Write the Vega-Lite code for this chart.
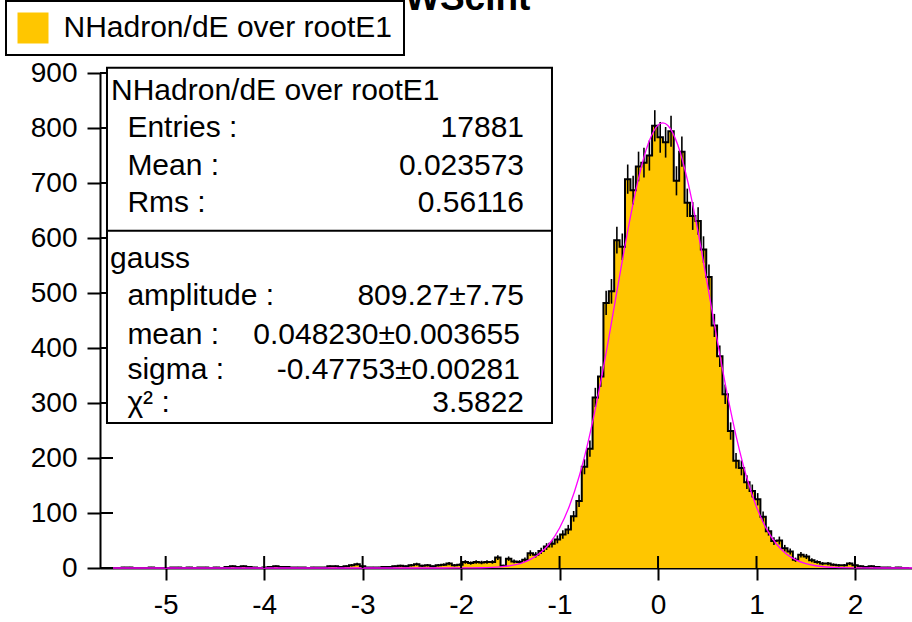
{
  "$schema": "https://vega.github.io/schema/vega-lite/v6.json",
  "width": 812,
  "height": 495,
  "autosize": {"type": "none"},
  "padding": {"left": 100, "top": 73, "right": 0, "bottom": 54},
  "background": "white",
  "config": {"view": {"stroke": null}, "font": "Liberation Sans"},
  "data": {"values": [{}]},
  "datasets": {
    "hist": [
      {"x":-5.640,"n":0,"e":0},{"x":-5.585,"n":0,"e":0},{"x":-5.530,"n":0,"e":0},{"x":-5.475,"n":0,"e":0},{"x":-5.420,"n":1,"e":1},
      {"x":-5.365,"n":1,"e":1},{"x":-5.310,"n":0,"e":0},{"x":-5.255,"n":0,"e":0},{"x":-5.200,"n":0,"e":0},{"x":-5.145,"n":1,"e":1},
      {"x":-5.090,"n":0,"e":0},{"x":-5.035,"n":0,"e":0},{"x":-4.980,"n":0,"e":0},{"x":-4.925,"n":1,"e":1},{"x":-4.870,"n":1,"e":1},
      {"x":-4.815,"n":0,"e":0},{"x":-4.760,"n":1,"e":1},{"x":-4.705,"n":0,"e":0},{"x":-4.650,"n":1,"e":1},{"x":-4.595,"n":1,"e":1},
      {"x":-4.540,"n":0,"e":0},{"x":-4.485,"n":1,"e":1},{"x":-4.430,"n":0,"e":0},{"x":-4.375,"n":2,"e":1.4},{"x":-4.320,"n":3,"e":1.7},
      {"x":-4.265,"n":2,"e":1.4},{"x":-4.210,"n":3,"e":1.7},{"x":-4.155,"n":2,"e":1.4},{"x":-4.100,"n":1,"e":1},{"x":-4.045,"n":0,"e":0},
      {"x":-3.990,"n":1,"e":1},{"x":-3.935,"n":2,"e":1.4},{"x":-3.881,"n":3,"e":1.7},{"x":-3.826,"n":2,"e":1.4},{"x":-3.771,"n":2,"e":1.4},
      {"x":-3.716,"n":1,"e":1},{"x":-3.661,"n":1,"e":1},{"x":-3.606,"n":1,"e":1},{"x":-3.551,"n":0,"e":0},{"x":-3.496,"n":1,"e":1},
      {"x":-3.441,"n":1,"e":1},{"x":-3.386,"n":1,"e":1},{"x":-3.331,"n":3,"e":1.7},{"x":-3.276,"n":3,"e":1.7},{"x":-3.221,"n":2,"e":1.4},
      {"x":-3.166,"n":3,"e":1.7},{"x":-3.111,"n":5,"e":2.2},{"x":-3.056,"n":7,"e":2.6},{"x":-3.001,"n":3,"e":1.7},{"x":-2.946,"n":1,"e":1},
      {"x":-2.891,"n":1,"e":1},{"x":-2.836,"n":1,"e":1},{"x":-2.781,"n":2,"e":1.4},{"x":-2.726,"n":2,"e":1.4},{"x":-2.671,"n":3,"e":1.7},
      {"x":-2.616,"n":4,"e":2},{"x":-2.561,"n":3,"e":1.7},{"x":-2.506,"n":5,"e":2.2},{"x":-2.451,"n":7,"e":2.6},{"x":-2.396,"n":4,"e":2},
      {"x":-2.341,"n":5,"e":2.2},{"x":-2.286,"n":3,"e":1.7},{"x":-2.231,"n":5,"e":2.2},{"x":-2.176,"n":6,"e":2.4},{"x":-2.122,"n":8,"e":2.8},
      {"x":-2.067,"n":5,"e":2.2},{"x":-2.012,"n":6,"e":2.4},{"x":-1.957,"n":11,"e":3.3},{"x":-1.902,"n":9,"e":3},{"x":-1.847,"n":11,"e":3.3},
      {"x":-1.792,"n":10,"e":3.2},{"x":-1.737,"n":11,"e":3.3},{"x":-1.682,"n":11,"e":3.3},{"x":-1.627,"n":19,"e":4.4},{"x":-1.572,"n":4,"e":2},
      {"x":-1.517,"n":17,"e":4.1},{"x":-1.462,"n":12,"e":3.5},{"x":-1.407,"n":11,"e":3.3},{"x":-1.352,"n":15,"e":3.9},{"x":-1.297,"n":27,"e":5.2},
      {"x":-1.242,"n":24,"e":4.9},{"x":-1.187,"n":31,"e":5.6},{"x":-1.132,"n":39,"e":6.2},{"x":-1.077,"n":44,"e":6.6},{"x":-1.022,"n":52,"e":7.2},
      {"x":-0.967,"n":61,"e":7.8},{"x":-0.912,"n":70,"e":8.4},{"x":-0.857,"n":94,"e":9.7},{"x":-0.802,"n":122,"e":11},{"x":-0.747,"n":184,"e":13.6},
      {"x":-0.692,"n":217,"e":14.7},{"x":-0.637,"n":310,"e":17.6},{"x":-0.582,"n":348,"e":18.7},{"x":-0.527,"n":482,"e":22},{"x":-0.473,"n":503,"e":22.4},
      {"x":-0.418,"n":596,"e":24.4},{"x":-0.363,"n":584,"e":24.2},{"x":-0.308,"n":707,"e":26.6},{"x":-0.253,"n":687,"e":26.2},{"x":-0.198,"n":730,"e":27},
      {"x":-0.143,"n":737,"e":27.1},{"x":-0.088,"n":750,"e":27.4},{"x":-0.033,"n":804,"e":28.4},{"x":0.022,"n":783,"e":28},{"x":0.077,"n":774,"e":27.8},
      {"x":0.132,"n":794,"e":28.2},{"x":0.187,"n":704,"e":26.5},{"x":0.242,"n":757,"e":27.5},{"x":0.297,"n":664,"e":25.8},{"x":0.352,"n":640,"e":25.3},
      {"x":0.407,"n":631,"e":25.1},{"x":0.462,"n":579,"e":24.1},{"x":0.517,"n":529,"e":23},{"x":0.572,"n":441,"e":21},{"x":0.627,"n":385,"e":19.6},
      {"x":0.682,"n":316,"e":17.8},{"x":0.737,"n":249,"e":15.8},{"x":0.792,"n":195,"e":14},{"x":0.847,"n":182,"e":13.5},{"x":0.902,"n":156,"e":12.5},
      {"x":0.957,"n":140,"e":11.8},{"x":1.012,"n":125,"e":11.2},{"x":1.067,"n":93,"e":9.6},{"x":1.122,"n":67,"e":8.2},{"x":1.177,"n":49,"e":7},
      {"x":1.232,"n":50,"e":7.1},{"x":1.287,"n":36,"e":6},{"x":1.342,"n":30,"e":5.5},{"x":1.396,"n":15,"e":3.9},{"x":1.451,"n":24,"e":4.9},
      {"x":1.507,"n":21,"e":4.6},{"x":1.562,"n":14,"e":3.7},{"x":1.616,"n":11,"e":3.3},{"x":1.671,"n":8,"e":2.8},{"x":1.726,"n":8,"e":2.8},
      {"x":1.781,"n":6,"e":2.4},{"x":1.836,"n":5,"e":2.2},{"x":1.891,"n":5,"e":2.2},{"x":1.946,"n":8,"e":2.8},{"x":2.001,"n":5,"e":2.2},
      {"x":2.056,"n":3,"e":1.7},{"x":2.111,"n":2,"e":1.4},{"x":2.166,"n":3,"e":1.7},{"x":2.221,"n":2,"e":1.4},{"x":2.276,"n":1,"e":1},
      {"x":2.331,"n":1,"e":1},{"x":2.386,"n":0,"e":0},{"x":2.441,"n":1,"e":1},{"x":2.496,"n":0,"e":0},{"x":2.551,"n":0,"e":0}
    ],
    "fit": [
      {"x":-5.667,"y":0},{"x":-3,"y":0},{"x":-2.5,"y":0},{"x":-2.2,"y":0.02},{"x":-2,"y":0.08},{"x":-1.8,"y":0.45},
      {"x":-1.6,"y":2.1},{"x":-1.5,"y":4.2},{"x":-1.4,"y":8.1},{"x":-1.3,"y":15.1},{"x":-1.2,"y":26.6},{"x":-1.1,"y":45},
      {"x":-1,"y":72.8},{"x":-0.9,"y":112.7},{"x":-0.8,"y":167.2},{"x":-0.7,"y":237.2},{"x":-0.6,"y":322},{"x":-0.5,"y":418.5},
      {"x":-0.4,"y":521},{"x":-0.3,"y":620.2},{"x":-0.2,"y":707},{"x":-0.1,"y":771.2},{"x":0,"y":805.2},{"x":0.048,"y":809.3},
      {"x":0.1,"y":804.5},{"x":0.2,"y":769.5},{"x":0.3,"y":704.2},{"x":0.4,"y":616.9},{"x":0.5,"y":517.3},{"x":0.6,"y":415.1},
      {"x":0.7,"y":318.8},{"x":0.8,"y":234.4},{"x":0.9,"y":164.9},{"x":1,"y":111},{"x":1.1,"y":71.6},{"x":1.2,"y":44.1},
      {"x":1.3,"y":26.1},{"x":1.4,"y":14.7},{"x":1.5,"y":8},{"x":1.6,"y":4.1},{"x":1.8,"y":0.97},{"x":2,"y":0.19},
      {"x":2.3,"y":0.01},{"x":2.579,"y":0}
    ],
    "xt": [{"t":-5},{"t":-4},{"t":-3},{"t":-2},{"t":-1},{"t":0},{"t":1},{"t":2}],
    "yt": [{"v":0},{"v":100},{"v":200},{"v":300},{"v":400},{"v":500},{"v":600},{"v":700},{"v":800},{"v":900}]
  },
  "layer": [
    {
      "data": {"name": "hist"},
      "mark": {"type": "area", "interpolate": "step"},
      "encoding": {
        "x": {"field": "x", "type": "quantitative",
          "scale": {"domain": [-5.667, 2.579], "nice": false, "zero": false},
          "axis": {"title": null, "values": [-5,-4,-3,-2,-1,0,1,2], "labelExpr": "'' + datum.value",
            "labelFontSize": 28, "labelFont": "Liberation Sans", "labelColor": "black", "labelPadding": 11,
            "tickSize": 12, "tickWidth": 2, "tickColor": "black", "domainColor": "black", "domainWidth": 2,
            "grid": false, "labelFlush": false, "labelOverlap": false}},
        "y": {"field": "n", "type": "quantitative",
          "scale": {"domain": [0, 900], "nice": false, "zero": true},
          "axis": {"title": null, "values": [0,100,200,300,400,500,600,700,800,900], "labelExpr": "'' + datum.value",
            "labelFontSize": 28, "labelFont": "Liberation Sans", "labelColor": "black", "labelPadding": 10,
            "tickSize": 13, "tickWidth": 2, "tickColor": "black", "domainColor": "black", "domainWidth": 2,
            "grid": false, "labelFlush": false, "labelOverlap": false}},
        "color": {"datum": "NHadron/dE over rootE1", "type": "nominal",
          "scale": {"range": ["#FFC600"]},
          "legend": {"title": null, "orient": "none", "legendX": -94, "legendY": -72,
            "symbolType": "square", "symbolSize": 961, "symbolStrokeWidth": 0,
            "labelFontSize": 30, "labelFont": "Liberation Sans", "labelColor": "black", "labelOffset": 15,
            "labelLimit": 0, "padding": 11.5, "strokeColor": "black", "fillColor": "white",
            "encode": {"legend": {"update": {"strokeWidth": {"value": 2}}}}}}
      }
    },
    {
      "data": {"name": "hist"},
      "mark": {"type": "line", "interpolate": "step", "color": "black", "strokeWidth": 2},
      "encoding": {
        "x": {"field": "x", "type": "quantitative"},
        "y": {"field": "n", "type": "quantitative"}
      }
    },
    {
      "data": {"name": "hist"},
      "mark": {"type": "errorbar", "color": "black", "thickness": 1.6},
      "encoding": {
        "x": {"field": "x", "type": "quantitative"},
        "y": {"field": "n", "type": "quantitative"},
        "yError": {"field": "e"}
      }
    },
    {
      "data": {"name": "fit"},
      "mark": {"type": "line", "interpolate": "monotone", "color": "#FF00FF", "strokeWidth": 1.3},
      "encoding": {
        "x": {"field": "x", "type": "quantitative"},
        "y": {"field": "y", "type": "quantitative"}
      }
    },
    {
      "data": {"name": "xt"},
      "mark": {"type": "rule", "color": "black", "strokeWidth": 2},
      "encoding": {
        "x": {"field": "t", "type": "quantitative"},
        "y": {"datum": 0, "type": "quantitative"},
        "y2": {"datum": 21.8}
      }
    },
    {
      "data": {"name": "yt"},
      "mark": {"type": "rule", "color": "black", "strokeWidth": 2},
      "encoding": {
        "y": {"field": "v", "type": "quantitative"},
        "x": {"datum": -5.667, "type": "quantitative"},
        "x2": {"datum": -5.535}
      }
    },
    {
      "mark": {"type": "rect", "fill": "white", "stroke": "black", "strokeWidth": 2, "clip": false},
      "encoding": {
        "x": {"datum": -5.596, "type": "quantitative"},
        "x2": {"datum": -1.077},
        "y": {"datum": 909.6, "type": "quantitative"},
        "y2": {"datum": 263.8}
      }
    },
    {
      "mark": {"type": "rule", "color": "black", "strokeWidth": 2},
      "encoding": {
        "x": {"datum": -5.596, "type": "quantitative"},
        "x2": {"datum": -1.077},
        "y": {"datum": 613.3, "type": "quantitative"}
      }
    },
    {
      "mark": {"type": "text", "align": "left", "baseline": "middle", "fontSize": 30, "font": "Liberation Sans", "color": "black"},
      "encoding": {"x": {"datum": -5.555, "type": "quantitative"}, "y": {"datum": 866.5, "type": "quantitative"}, "text": {"value": "NHadron/dE over rootE1"}}
    },
    {
      "mark": {"type": "text", "align": "left", "baseline": "middle", "fontSize": 30, "font": "Liberation Sans", "color": "black"},
      "encoding": {"x": {"datum": -5.389, "type": "quantitative"}, "y": {"datum": 800, "type": "quantitative"}, "text": {"value": "Entries :"}}
    },
    {
      "mark": {"type": "text", "align": "right", "baseline": "middle", "fontSize": 30, "font": "Liberation Sans", "color": "black"},
      "encoding": {"x": {"datum": -1.361, "type": "quantitative"}, "y": {"datum": 800, "type": "quantitative"}, "text": {"value": "17881"}}
    },
    {
      "mark": {"type": "text", "align": "left", "baseline": "middle", "fontSize": 30, "font": "Liberation Sans", "color": "black"},
      "encoding": {"x": {"datum": -5.389, "type": "quantitative"}, "y": {"datum": 730.2, "type": "quantitative"}, "text": {"value": "Mean :"}}
    },
    {
      "mark": {"type": "text", "align": "right", "baseline": "middle", "fontSize": 30, "font": "Liberation Sans", "color": "black"},
      "encoding": {"x": {"datum": -1.361, "type": "quantitative"}, "y": {"datum": 730.2, "type": "quantitative"}, "text": {"value": "0.023573"}}
    },
    {
      "mark": {"type": "text", "align": "left", "baseline": "middle", "fontSize": 30, "font": "Liberation Sans", "color": "black"},
      "encoding": {"x": {"datum": -5.389, "type": "quantitative"}, "y": {"datum": 663.6, "type": "quantitative"}, "text": {"value": "Rms :"}}
    },
    {
      "mark": {"type": "text", "align": "right", "baseline": "middle", "fontSize": 30, "font": "Liberation Sans", "color": "black"},
      "encoding": {"x": {"datum": -1.361, "type": "quantitative"}, "y": {"datum": 663.6, "type": "quantitative"}, "text": {"value": "0.56116"}}
    },
    {
      "mark": {"type": "text", "align": "left", "baseline": "middle", "fontSize": 30, "font": "Liberation Sans", "color": "black"},
      "encoding": {"x": {"datum": -5.565, "type": "quantitative"}, "y": {"datum": 562.4, "type": "quantitative"}, "text": {"value": "gauss"}}
    },
    {
      "mark": {"type": "text", "align": "left", "baseline": "middle", "fontSize": 30, "font": "Liberation Sans", "color": "black"},
      "encoding": {"x": {"datum": -5.389, "type": "quantitative"}, "y": {"datum": 493.8, "type": "quantitative"}, "text": {"value": "amplitude :"}}
    },
    {
      "mark": {"type": "text", "align": "right", "baseline": "middle", "fontSize": 30, "font": "Liberation Sans", "color": "black"},
      "encoding": {"x": {"datum": -1.361, "type": "quantitative"}, "y": {"datum": 493.8, "type": "quantitative"}, "text": {"value": "809.27±7.75"}}
    },
    {
      "mark": {"type": "text", "align": "left", "baseline": "middle", "fontSize": 30, "font": "Liberation Sans", "color": "black"},
      "encoding": {"x": {"datum": -5.389, "type": "quantitative"}, "y": {"datum": 424.2, "type": "quantitative"}, "text": {"value": "mean :"}}
    },
    {
      "mark": {"type": "text", "align": "right", "baseline": "middle", "fontSize": 30, "font": "Liberation Sans", "color": "black"},
      "encoding": {"x": {"datum": -1.402, "type": "quantitative"}, "y": {"datum": 424.2, "type": "quantitative"}, "text": {"value": "0.048230±0.003655"}}
    },
    {
      "mark": {"type": "text", "align": "left", "baseline": "middle", "fontSize": 30, "font": "Liberation Sans", "color": "black"},
      "encoding": {"x": {"datum": -5.389, "type": "quantitative"}, "y": {"datum": 360.5, "type": "quantitative"}, "text": {"value": "sigma :"}}
    },
    {
      "mark": {"type": "text", "align": "right", "baseline": "middle", "fontSize": 30, "font": "Liberation Sans", "color": "black"},
      "encoding": {"x": {"datum": -1.402, "type": "quantitative"}, "y": {"datum": 360.5, "type": "quantitative"}, "text": {"value": "-0.47753±0.00281"}}
    },
    {
      "mark": {"type": "text", "align": "left", "baseline": "middle", "fontSize": 30, "font": "Liberation Sans", "color": "black"},
      "encoding": {"x": {"datum": -5.389, "type": "quantitative"}, "y": {"datum": 300, "type": "quantitative"}, "text": {"value": "χ² :"}}
    },
    {
      "mark": {"type": "text", "align": "right", "baseline": "middle", "fontSize": 30, "font": "Liberation Sans", "color": "black"},
      "encoding": {"x": {"datum": -1.361, "type": "quantitative"}, "y": {"datum": 300, "type": "quantitative"}, "text": {"value": "3.5822"}}
    },
    {
      "mark": {"type": "text", "align": "left", "baseline": "alphabetic", "fontSize": 37, "fontWeight": "bold", "font": "Liberation Sans", "color": "black"},
      "encoding": {"x": {"datum": -2.57, "type": "quantitative"}, "y": {"datum": 1015, "type": "quantitative"}, "text": {"value": "WScint"}}
    }
  ]
}
